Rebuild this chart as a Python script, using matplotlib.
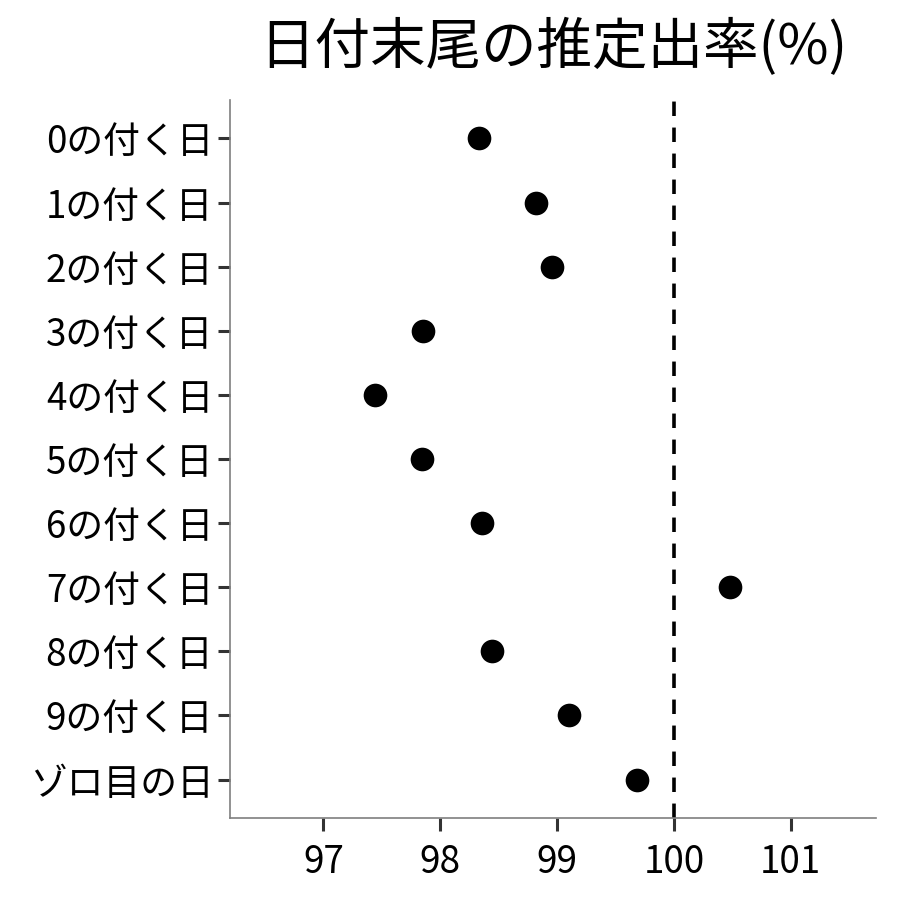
import matplotlib
matplotlib.use("Agg")
import matplotlib.pyplot as plt

plt.rcParams['font.family'] = ['Noto Sans CJK JP', 'DejaVu Sans']

labels = ['0の付く日', '1の付く日', '2の付く日', '3の付く日', '4の付く日', '5の付く日',
          '6の付く日', '7の付く日', '8の付く日', '9の付く日', 'ゾロ目の日']
rate = [98.33, 98.82, 98.96, 97.85, 97.44, 97.84, 98.36, 100.48, 98.44, 99.10, 99.68]
xticks = [97, 98, 99, 100, 101]

fig = plt.figure(figsize=(9, 9), dpi=100)
ax = fig.add_axes([0.2556, 0.0911, 0.7177, 0.7978])

ypos = list(range(len(labels)))
ax.scatter(rate, ypos, s=290, color='black', zorder=3, linewidths=0)
ax.axvline(100, color='black', linestyle=(0, (4, 3.2)), linewidth=2.6)

ax.set_xlim(96.2, 101.73)
ax.set_ylim(len(labels) - 1 + 0.6, -0.6)
ax.set_yticks(ypos)
ax.set_yticklabels(labels)
ax.set_xticks(xticks)
ax.set_xticklabels([str(v) for v in xticks])

for side in ['top', 'right']:
    ax.spines[side].set_visible(False)
for side in ['left', 'bottom']:
    ax.spines[side].set_color('#7f7f7f')
    ax.spines[side].set_linewidth(1.2)

ax.tick_params(axis='both', colors='#333333', length=9, width=2.2,
               labelcolor='black')
ax.tick_params(axis='y', labelsize=26.5, pad=3)
ax.tick_params(axis='x', labelsize=26.5, pad=9)

ax.set_title('日付末尾の推定出率(%)', fontsize=40, pad=26)

fig.savefig('out.png', dpi=100)
